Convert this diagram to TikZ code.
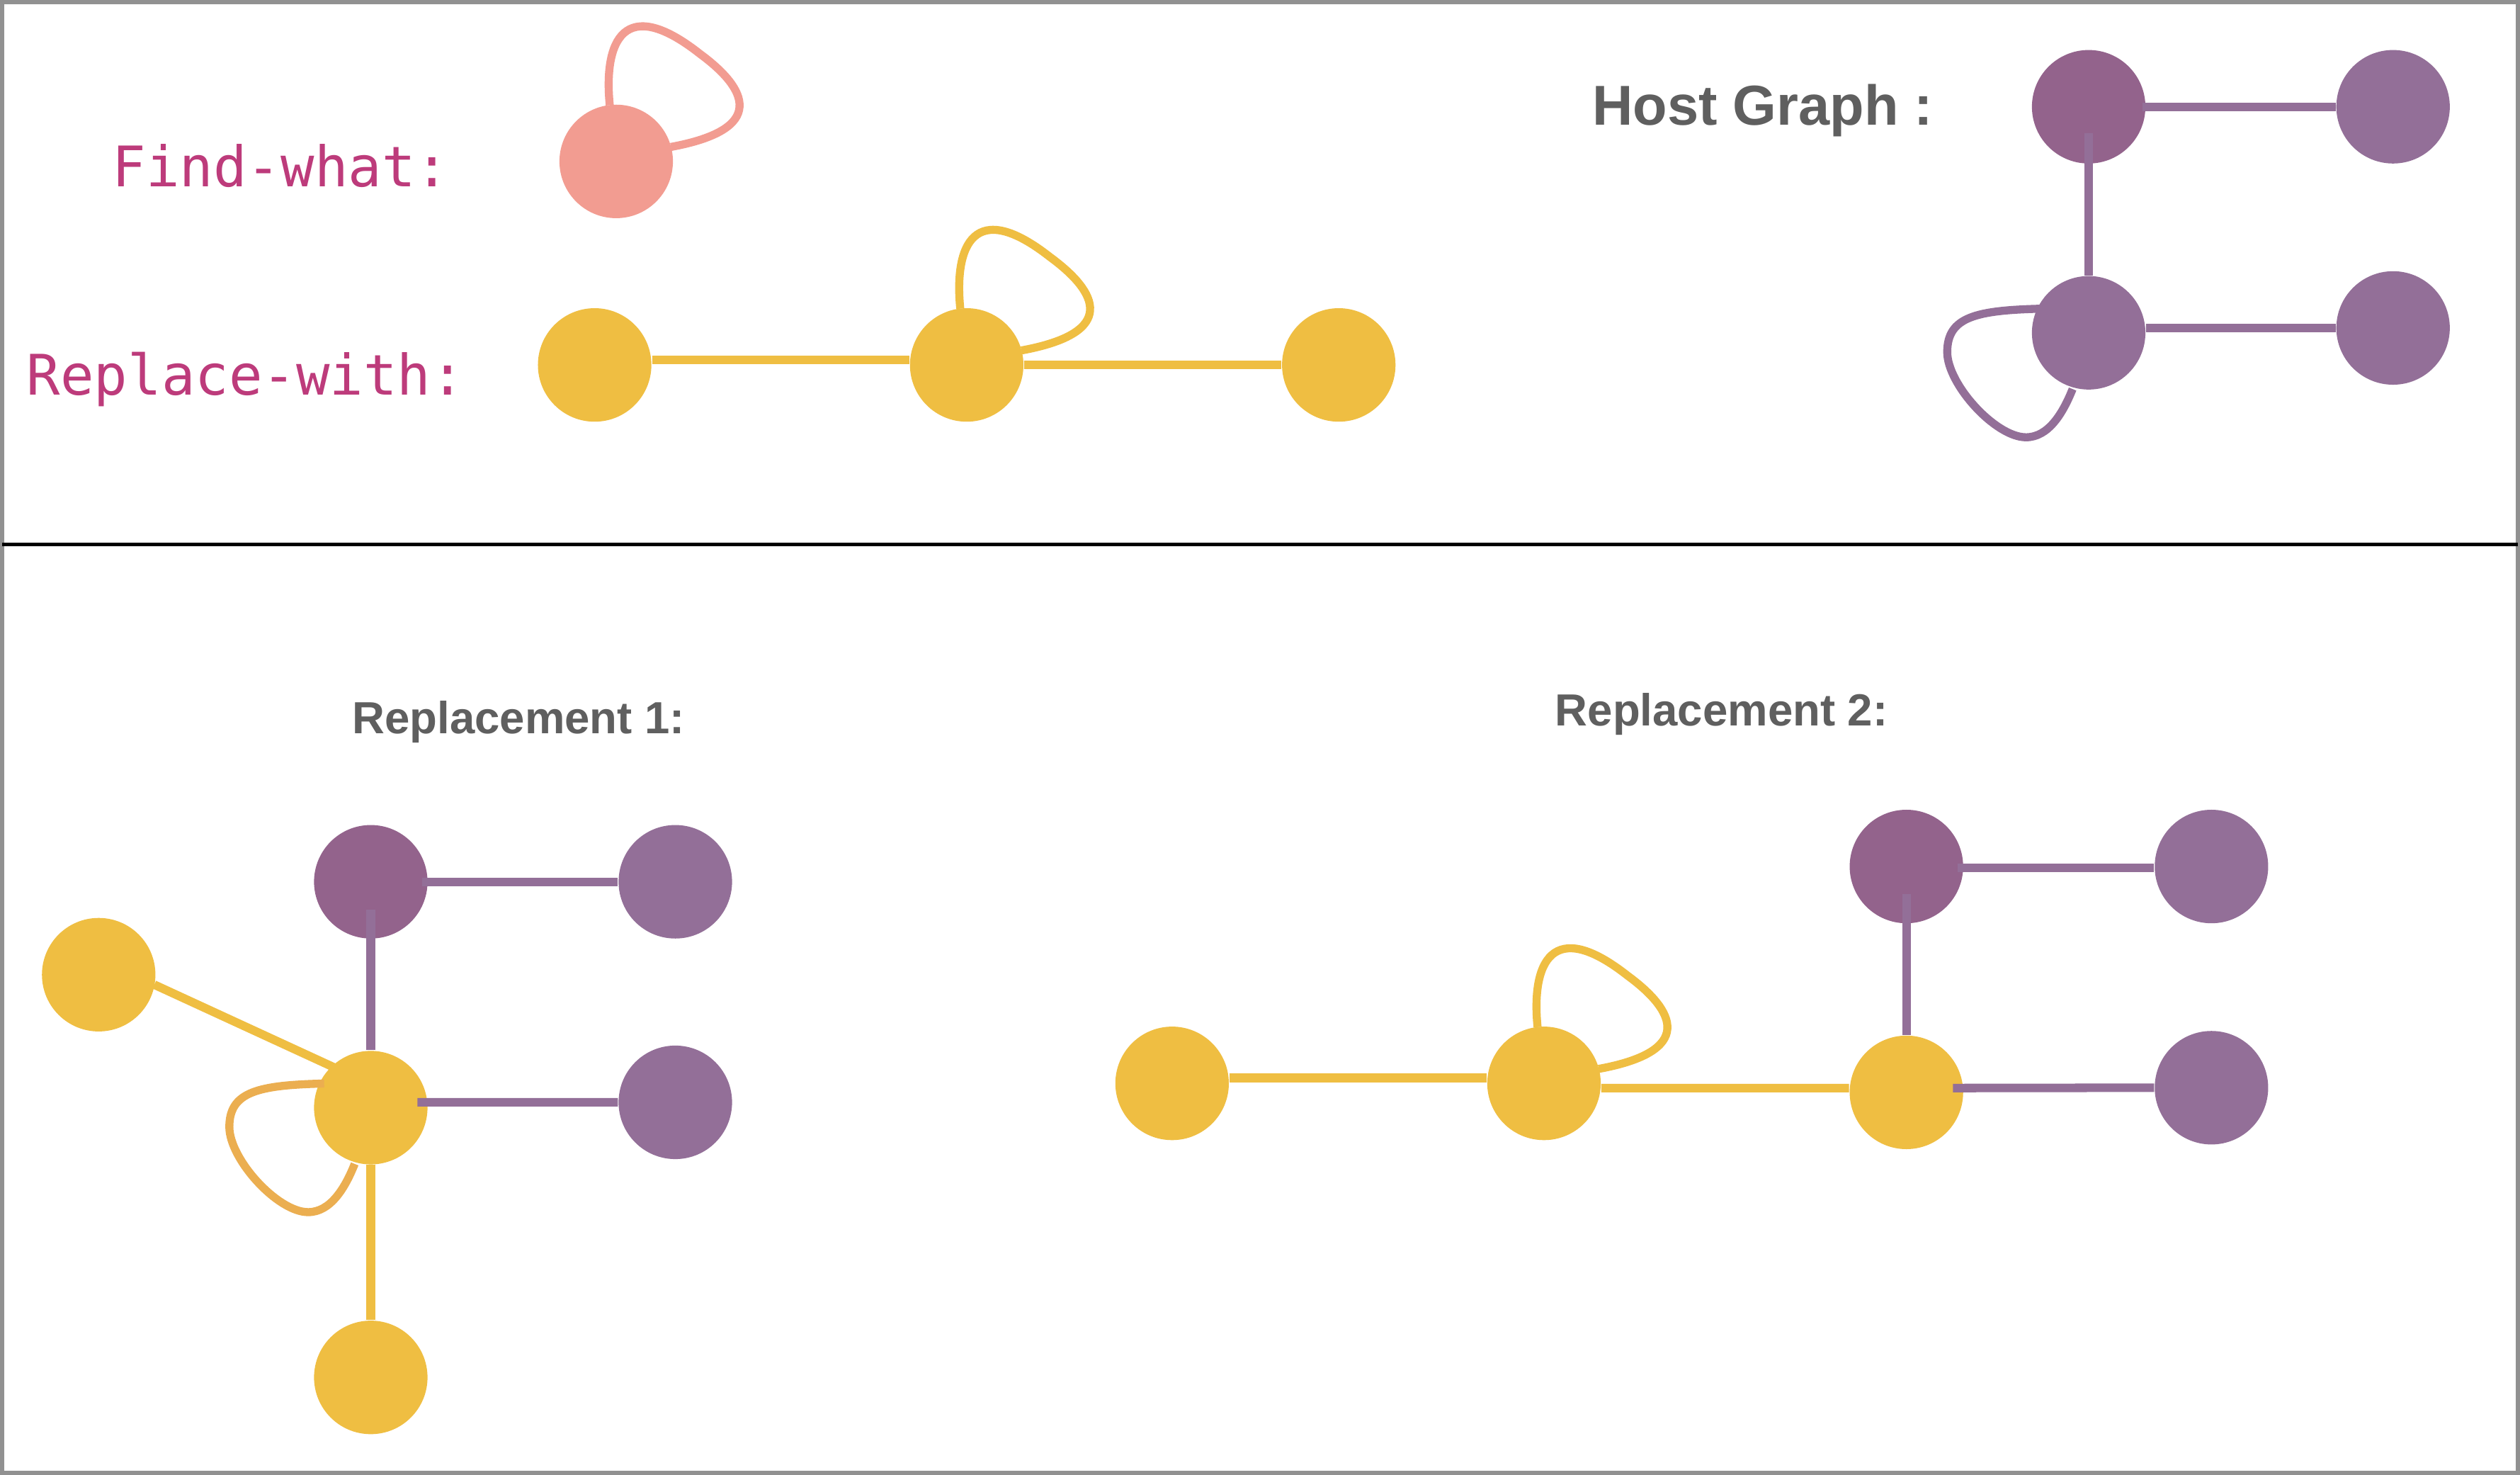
\documentclass[tikz,border=0pt]{standalone}
\usepackage{fontspec}
\setmainfont{Liberation Sans}
\newfontfamily\monofont{DejaVu Sans Mono}
\usetikzlibrary{calc}
\definecolor{cmag}{HTML}{BD3B7B}
\definecolor{cgraytxt}{HTML}{5F5F5F}
\definecolor{cpink}{HTML}{F29C91}
\definecolor{cyel}{HTML}{EFBE42}
\definecolor{corange}{HTML}{EBAE50}
\definecolor{cpurd}{HTML}{93638C}
\definecolor{cpur}{HTML}{936F98}
\definecolor{cborder}{HTML}{919191}
\newcommand\loopNE[2]{\draw[#2] ($(#1)+(-4,-35)$) .. controls ($(#1)+(-8,-75)$) and ($(#1)+(5,-104)$) .. ($(#1)+(52,-67)$) .. controls ($(#1)+(82,-45)$) and ($(#1)+(94,-20)$) .. ($(#1)+(34,-9)$);}
\newcommand\loopSW[2]{\draw[#2] ($(#1)+(-29,-15)$) .. controls ($(#1)+(-70,-14)$) and ($(#1)+(-88,-10)$) .. ($(#1)+(-88,12)$) .. controls ($(#1)+(-88,32)$) and ($(#1)+(-58,65)$) .. ($(#1)+(-39,65)$) .. controls ($(#1)+(-25,65)$) and ($(#1)+(-16,50)$) .. ($(#1)+(-10,35)$);}
\begin{document}
\begin{tikzpicture}[x=0.5pt,y=-0.5pt,
  vtx/.style={circle,inner sep=0pt,minimum size=35.3pt,draw=none},
  pinkv/.style={vtx,fill=cpink},
  yelv/.style={vtx,fill=cyel},
  purdv/.style={vtx,fill=cpurd},
  purv/.style={vtx,fill=cpur},
  yedge/.style={draw=cyel,line width=2.65pt},
  pedge/.style={draw=cpur,line width=2.65pt},
  pinkloop/.style={draw=cpink,line width=2.5pt},
  yloop/.style={draw=cyel,line width=2.5pt},
  oloop/.style={draw=corange,line width=2.5pt},
  ploop/.style={draw=cpur,line width=2.5pt},
  monolabel/.style={anchor=base west,inner sep=0pt,text=cmag,font=\monofont\fontsize{17.4pt}{20pt}\selectfont},
  boldlabel/.style={anchor=base west,inner sep=0pt,text=cgraytxt,font=\bfseries\fontsize{17.5pt}{20pt}\selectfont},
  replabel/.style={anchor=base west,inner sep=0pt,text=cgraytxt,font=\bfseries\fontsize{14pt}{17pt}\selectfont}
]
\useasboundingbox (0,0) rectangle (1568,917.5);
\fill[white] (0,0) rectangle (1568,917.5);
% frame and divider
\draw[cborder,line width=1.3pt] (1.3,1.3) rectangle (1566.7,916.2);
\draw[black,line width=1.1pt] (1.3,338.8) -- (1566.7,338.8);

% ---------- labels ----------
\node[monolabel] (tfind) at (69.6,116) {Find-what:};
\node[monolabel] (trepl) at (16.3,245.6) {Replace-with:};
\node[boldlabel] (thost) at (990.5,77.8) {Host Graph :};
\node[replabel] (trep1) at (218.8,456.4) {Replacement 1:};
\node[replabel] (trep2) at (967.3,451.7) {Replacement 2:};

% ---------- Find-what ----------
\node[pinkv] (f) at (383.4,100.4) {};
\loopNE{f}{pinkloop}

% ---------- Replace-with ----------
\node[yelv] (r1) at (370,227) {};
\node[yelv] (r2) at (601.5,227) {};
\node[yelv] (r3) at (833,227) {};
\draw[yedge] ($(r1.east)+(0,-3)$) -- ($(r2.west)+(0,-3)$);
\draw[yedge] (r2) -- (r3);
\loopNE{r2}{yloop}

% ---------- Host graph ----------
\node[purdv] (h1) at (1299.6,66.4) {};
\node[purv] (h2) at (1489,66.4) {};
\node[purv] (h3) at (1299.6,207) {};
\node[purv] (h4) at (1489,204) {};
\draw[pedge] ($(h1)+(33.7,0)$) -- (h2.west);
\draw[pedge] (h4.west) -- (h4.west -| h3.east);
\draw[pedge] ($(h1)+(0,16.6)$) -- (h3.north);
\loopSW{h3}{ploop}

% ---------- Replacement 1 ----------
\node[purdv] (a1) at (230.7,548.5) {};
\node[purv] (a2) at (420.2,548.5) {};
\node[yelv] (a3) at (61.4,606.3) {};
\node[yelv] (a4) at (230.7,689) {};
\node[purv] (a5) at (420.2,685.7) {};
\node[yelv] (a6) at (230.7,856.8) {};
\draw[pedge] ($(a1)+(32,0)$) -- (a2.west);
\draw[pedge] ($(a1)+(0,17.5)$) -- (a4.north);
\draw[yedge] ($(a3)+(34.6,6.2)$) -- ($(a4)+(-21.7,-24.5)$);
\draw[pedge] ($(a4)+(29,-3.3)$) -- (a5.west);
\draw[yedge] (a4) -- (a6);
\loopSW{a4}{oloop}

% ---------- Replacement 2 ----------
\node[yelv] (b1) at (729.3,673.9) {};
\node[yelv] (b2) at (960.7,673.9) {};
\node[yelv] (b3) at (1186.2,679.5) {};
\node[purdv] (b4) at (1186.2,539) {};
\node[purv] (b5) at (1376,539) {};
\node[purv] (b6) at (1376,676.6) {};
\draw[yedge] ($(b1.east)+(0,-3.4)$) -- ($(b2.west)+(0,-3.4)$);
\draw[yedge] ($(b2.east)+(0,2.9)$) -- ($(b3.west)+(0,-2.7)$);
\draw[pedge] ($(b3)+(29,-2.7)$) -- (b6.west);
\draw[pedge] ($(b4)+(32,0.9)$) -- ($(b5.west)+(0,0.9)$);
\draw[pedge] ($(b4)+(0,17)$) -- (b3.north);
\loopNE{b2}{yloop}
\end{tikzpicture}
\end{document}
